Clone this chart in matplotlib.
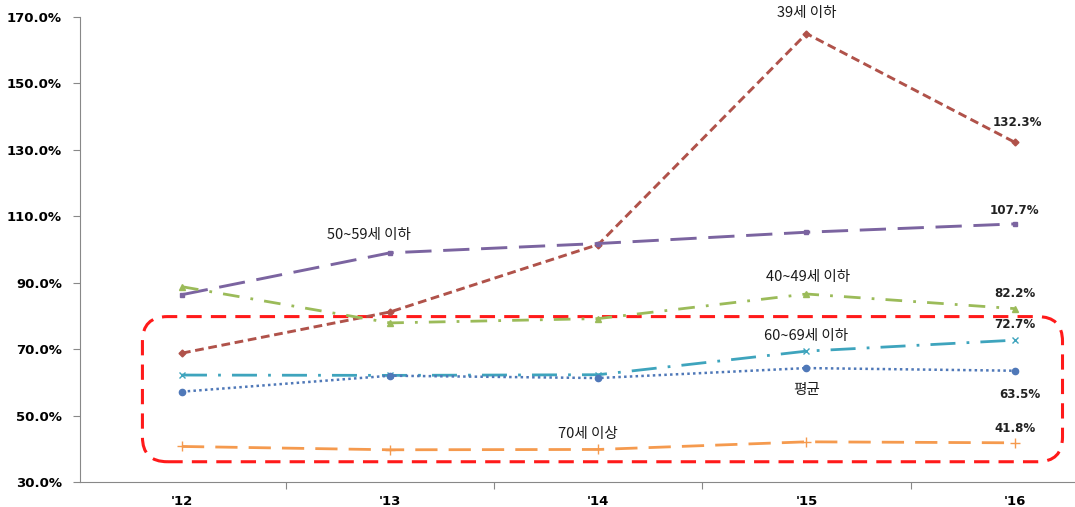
import matplotlib
matplotlib.use("Agg")
import matplotlib.pyplot as plt
from matplotlib.patches import FancyBboxPatch
import numpy as np

plt.rcParams['font.family'] = ['Noto Sans CJK KR', 'DejaVu Sans']

years = ["'12", "'13", "'14", "'15", "'16"]

under39 = [68.8, 81.2, 101.5, 165.0, 132.3]
age50s = [86.4, 99.0, 101.8, 105.2, 107.7]
age40s = [88.8, 77.9, 79.2, 86.6, 82.2]
age60s = [62.2, 62.1, 62.3, 69.4, 72.7]
average = [57.2, 62.0, 61.3, 64.3, 63.5]
over70 = [40.7, 39.7, 39.8, 42.1, 41.8]

fig = plt.figure(figsize=(10.75, 5.07), dpi=100)
ax = fig.add_axes([0.0744, 0.0493, 0.9256, 0.9172])

x = np.arange(len(years))

ax.plot(x, under39, color='#b0524a', lw=2.1, ls=(0, (3, 1.6)), marker='D', ms=3.5)
ax.plot(x, age50s, color='#7b64a0', lw=2.1, ls=(0, (9, 4)), marker='s', ms=3)
ax.plot(x, age40s, color='#9bbb59', lw=2.0, ls=(0, (6, 4, 1, 4)), marker='^', ms=5)
ax.plot(x, age60s, color='#3ea4bd', lw=2.0, ls=(0, (9, 4, 1, 4)), marker='x', ms=5, mew=1)
ax.plot(x, average, color='#4f78b8', lw=1.8, ls=(0, (1, 1.3)), marker='o', ms=4.5)
ax.plot(x, over70, color='#f59a4e', lw=2.0, ls=(0, (8, 4)), marker='+', ms=7, mew=1)

# end-of-series value labels
ends = [(under39, (2, 14)), (age50s, (0, 10)), (age40s, (0, 11)),
        (age60s, (0, 11)), (average, (4, -17)), (over70, (0, 10))]
for series, off in ends:
    ax.annotate(f'{series[-1]:.1f}%', (x[-1], series[-1]), xytext=off,
                textcoords='offset points', ha='center', va='center',
                fontsize=8.6, fontweight='bold', color='#222222',
                family=['DejaVu Sans'], annotation_clip=False)

# series names
name_kw = dict(ha='center', va='center', fontsize=10.5, color='#1a1a1a')
ax.text(3.0, 171.2, '39세 이하', clip_on=False, **name_kw)
ax.text(0.9, 104.4, '50~59세 이하', **name_kw)
ax.text(3.01, 91.8, '40~49세 이하', **name_kw)
ax.text(3.0, 74.0, '60~69세 이하', **name_kw)
ax.text(3.0, 57.7, '평균', **name_kw)
ax.text(1.95, 44.4, '70세 이상', **name_kw)

# red dashed highlight box around the lower group
box = FancyBboxPatch((-0.19, 36.1), 4.42, 43.7,
                     boxstyle='round,pad=0,rounding_size=0.12',
                     mutation_aspect=62, fill=False, ec='#ff1a1a', lw=2.2,
                     ls=(0, (5, 3)), clip_on=False)
ax.add_patch(box)

ax.set_yticks(np.arange(30, 171, 20))
ax.set_yticklabels([f'{v:.1f}%' for v in np.arange(30, 171, 20)],
                   fontweight='bold', fontsize=9.5, family=['DejaVu Sans'])
ax.set_xticks(x[:-1] + 0.5)
ax.set_xticklabels([])
ax.set_xticks(x, minor=True)
ax.set_xticklabels(years, minor=True, fontweight='bold', fontsize=9.5, family=['DejaVu Sans'])
ax.tick_params(axis='x', which='minor', length=0, pad=9)
ax.tick_params(axis='x', which='major', length=5, color='#888888', direction='out')
ax.tick_params(axis='y', length=5, color='#888888', pad=8)
ax.set_xlim(-0.49, 4.29)
ax.set_ylim(30, 170)

for side in ['top', 'right']:
    ax.spines[side].set_visible(False)
for side in ['left', 'bottom']:
    ax.spines[side].set_color('#888888')

fig.savefig('out.png', dpi=100)
